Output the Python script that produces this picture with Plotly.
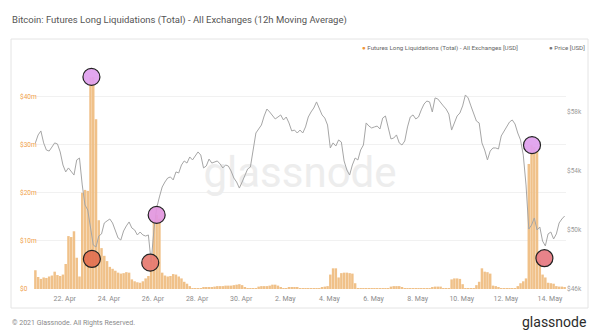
import pandas as pd
import plotly.graph_objects as go

# 3-hourly samples, 20 Apr 16:00 -> 14 May 16:00 (2021)
times = pd.date_range("2021-04-20 16:00", periods=193, freq="3h")

# Futures long liquidations, all exchanges, 12h moving average (USD millions)
liquidations_musd = [
    3.9, 2.5, 2.1, 2.4, 2.3, 2.6, 2.8, 3.6, 2.9, 2.7, 3.0, 5.2, 11.0, 10.8, 12.0, 6.5,
    2.6, 20.0, 20.6, 20.4, 44.0, 44.1, 35.3, 14.3, 8.5, 6.9, 5.8, 4.6, 4.2, 3.8, 3.4, 3.2,
    3.3, 3.5, 3.4, 2.0, 1.6, 1.4, 1.3, 1.6, 2.2, 2.7, 6.0, 14.2, 15.4, 14.6, 3.4, 2.8,
    2.6, 2.7, 3.1, 3.0, 2.6, 2.2, 1.5, 1.1, 0.6, 0.2, 0.1, 0.1, 0.1, 0.3, 0.4, 0.4,
    0.4, 0.5, 0.6, 0.6, 0.6, 0.7, 0.7, 0.7, 0.8, 0.9, 1.0, 0.8, 0.3, 0.2, 0.2, 0.2,
    0.2, 0.5, 0.6, 0.6, 0.6, 0.7, 0.9, 0.9, 0.7, 0.3, 0.2, 0.2, 0.3, 0.3, 0.3, 0.3,
    0.2, 0.1, 0.1, 0.1, 0.1, 0.1, 0.1, 0.1, 0.4, 0.5, 0.6, 3.0, 4.3, 4.3, 2.4, 3.3,
    3.4, 3.4, 3.3, 3.2, 1.2, 0.2, 0.1, 0.1, 0.1, 0.1, 0.1, 0.1, 0.1, 0.1, 0.1, 0.1,
    0.2, 0.5, 0.6, 0.6, 0.6, 0.3, 0.15, 0.15, 0.15, 0.15, 0.15, 0.15, 0.15, 0.15, 0.15, 0.15,
    0.4, 0.5, 0.5, 0.5, 0.2, 0.1, 0.1, 2.0, 2.2, 2.2, 2.1, 1.0, 0.1, 0.1, 0.1, 0.1,
    0.8, 1.5, 4.3, 3.6, 3.5, 3.2, 0.7, 0.6, 0.3, 0.2, 0.2, 0.2, 0.2, 0.2, 0.2, 0.6,
    1.2, 1.6, 2.2, 26.0, 29.9, 29.5, 28.5, 6.0, 3.0, 2.4, 1.3, 1.2, 1.1, 0.6, 0.5, 0.5,
    0.4,
]

# BTC price (USD)
price_usd = [
    55870, 56410, 56680, 55870, 55390, 55320, 55590, 55870, 55800, 55260, 54380, 53910,
    54180, 53910, 53700, 54720, 54850, 53030, 51680, 51340, 50120, 48970, 48840, 49580,
    49720, 50460, 50600, 50730, 50460, 49990, 49450, 49310, 49920, 50260, 50530, 50120,
    49990, 49650, 49850, 49650, 49580, 49650, 47820, 49990, 51470, 52220, 52890, 53230,
    53500, 53570, 53370, 53910, 53840, 54380, 54650, 54510, 54920, 54720, 54990, 55260,
    55050, 54180, 54310, 54780, 54510, 54580, 54650, 54450, 54180, 54380, 54310, 53970,
    53500, 53230, 52820, 53230, 53700, 54110, 54240, 55390, 56540, 56810, 57080, 57690,
    58160, 57960, 57690, 57490, 57620, 57760, 57420, 57620, 57220, 56680, 56740, 56540,
    56740, 56540, 56950, 57620, 57960, 58230, 58640, 58230, 57760, 57550, 57080, 55530,
    55870, 55660, 56070, 55930, 54650, 54040, 53700, 54380, 54850, 54720, 55390, 55730,
    57220, 57010, 56880, 56950, 57010, 56810, 57550, 57690, 56810, 56140, 56200, 56410,
    55870, 55730, 56000, 56950, 57620, 57760, 57490, 57620, 58100, 58500, 58700, 58640,
    57960, 58910, 58840, 58570, 58370, 58160, 57820, 56740, 57280, 57690, 57890, 58370,
    59110, 58910, 58370, 57820, 57350, 57220, 55870, 55390, 54720, 55320, 55530, 55530,
    55460, 56340, 56680, 56950, 57280, 57420, 57150, 56540, 56070, 55050, 53030, 50050,
    50320, 50800, 49990, 50190, 49240, 48910, 49720, 49850, 49380, 49720, 50460, 50730,
    50930,
]

# Highlighted liquidation spikes and the price lows next to them
spike_times = ["2021-04-23 05:00", "2021-04-26 04:00", "2021-05-13 04:30"]
spike_values_musd = [44.1, 15.4, 29.9]
spike_colors = ["rgba(224,160,238,0.92)", "rgba(226,150,222,0.92)", "rgba(224,160,238,0.92)"]

low_times = ["2021-04-23 05:30", "2021-04-25 21:00", "2021-05-13 18:00"]
low_prices = [48030, 47780, 48080]
low_colors = ["rgba(226,112,80,0.92)", "rgba(230,122,112,0.92)", "rgba(230,120,128,0.92)"]

# Axis ticks
x_tick_dates = ["2021-04-22", "2021-04-24", "2021-04-26", "2021-04-28", "2021-04-30",
                "2021-05-02", "2021-05-04", "2021-05-06", "2021-05-08", "2021-05-10",
                "2021-05-12", "2021-05-14"]
x_tick_labels = ["22. Apr", "24. Apr", "26. Apr", "28. Apr", "30. Apr", "2. May",
                 "4. May", "6. May", "8. May", "10. May", "12. May", "14. May"]
liq_ticks = [0, 10, 20, 30, 40]
liq_tick_labels = ["$0", "$10m", "$20m", "$30m", "$40m"]
price_ticks = [46000, 50000, 54000, 58000]
price_tick_labels = ["$46k", "$50k", "$54k", "$58k"]

FONT = "Roboto, 'Open Sans', sans-serif"
BAR = "rgb(240,193,137)"
ORANGE = "rgb(240,160,75)"

fig = go.Figure()

# faint brand mark behind the data
fig.add_trace(go.Scatter(
    x=["2021-05-02 16:00"], y=[23.3], mode="text", text=["glassnode"],
    textfont=dict(family=FONT, size=42, color="#ededed"),
    hoverinfo="skip", showlegend=False, xaxis="x", yaxis="y",
))

fig.add_trace(go.Bar(
    x=times, y=liquidations_musd, marker=dict(color=BAR, line=dict(width=0)),
    name="Futures Long Liquidations (Total) - All Exchanges [USD]",
    showlegend=False, xaxis="x", yaxis="y",
))

fig.add_trace(go.Scatter(
    x=times, y=price_usd, mode="lines", line=dict(color="#a6a6a6", width=1),
    name="Price [USD]", showlegend=False, xaxis="x", yaxis="y2",
))

fig.add_trace(go.Scatter(
    x=low_times, y=low_prices, mode="markers",
    marker=dict(size=17, color=low_colors, line=dict(color="#222", width=1.2)),
    hoverinfo="skip", showlegend=False, xaxis="x", yaxis="y2",
))

fig.add_trace(go.Scatter(
    x=spike_times, y=spike_values_musd, mode="markers",
    marker=dict(size=17, color=spike_colors, line=dict(color="#222", width=1.2)),
    hoverinfo="skip", showlegend=False, xaxis="x", yaxis="y3",
))

L, R, T, B = 34, 34, 62, 47
PW, PH = 600 - L - R, 336 - T - B


def px(x):
    return (x - L) / PW


def py(y):
    return (336 - B - y) / PH


liq_range = [0, PH / 4.81]
price_range = [46000, 46000 + PH * 1000 / 14.8]

fig.update_layout(
    width=600, height=336, autosize=False,
    margin=dict(l=L, r=R, t=T, b=B, pad=0),
    paper_bgcolor="white", plot_bgcolor="rgba(0,0,0,0)",
    font=dict(family=FONT),
    bargap=0.1, showlegend=False,
    xaxis=dict(
        type="date", range=["2021-04-20 14:30", "2021-05-14 17:30"],
        tickmode="array", tickvals=x_tick_dates, ticktext=x_tick_labels,
        tickfont=dict(size=7, color="#8c8c8c"), ticks="", showgrid=False,
        zeroline=False, showline=False, ticklabelstandoff=4,
    ),
    yaxis=dict(
        range=liq_range, tickmode="array", tickvals=liq_ticks[1:],
        showticklabels=False, gridcolor="#f1f1f1", gridwidth=1,
        zeroline=False, showline=False, ticks="",
    ),
    yaxis2=dict(
        overlaying="y", side="right", range=price_range,
        tickmode="array", tickvals=price_ticks, ticktext=price_tick_labels,
        tickfont=dict(size=6.5, color="#9a9a9a"), showgrid=False,
        zeroline=False, showline=False, ticks="",
    ),
    yaxis3=dict(overlaying="y", range=liq_range, visible=False),
)

# chart panel
fig.add_shape(type="rect", xref="paper", yref="paper",
              x0=px(11), x1=px(588), y0=py(308), y1=py(39),
              line=dict(color="#e4e4e4", width=1), fillcolor="white", layer="below")

# left axis labels, left aligned
for v, lab in zip(liq_ticks, liq_tick_labels):
    fig.add_annotation(x=px(18), xref="paper", y=v, yref="y", text=lab,
                       showarrow=False, xanchor="left", yanchor="middle",
                       font=dict(size=6.5, color=ORANGE, family=FONT))

fig.add_annotation(
    x=px(10), y=py(20), xref="paper", yref="paper", xanchor="left", yanchor="middle",
    text="Bitcoin: Futures Long Liquidations (Total) - All Exchanges (12h Moving Average)",
    showarrow=False, font=dict(size=9.5, color="#555555", family=FONT))

fig.add_annotation(
    x=px(360), y=py(48), xref="paper", yref="paper", xanchor="left", yanchor="middle",
    text='<span style="color:#f0953a">●</span> Futures Long Liquidations (Total) - All Exchanges [USD]',
    showarrow=False, font=dict(size=6.2, color="#666666", family=FONT))

fig.add_annotation(
    x=px(547), y=py(48), xref="paper", yref="paper", xanchor="left", yanchor="middle",
    text='<span style="color:#777777">●</span> Price [USD]',
    showarrow=False, font=dict(size=6.2, color="#666666", family=FONT))

fig.add_annotation(
    x=px(10), y=py(323), xref="paper", yref="paper", xanchor="left", yanchor="middle",
    text="© 2021 Glassnode. All Rights Reserved.",
    showarrow=False, font=dict(size=7, color="#8a8a8a", family=FONT))

fig.add_annotation(
    x=px(588), y=py(322), xref="paper", yref="paper", xanchor="right", yanchor="middle",
    text="glassnode", showarrow=False,
    font=dict(size=14, color="#2b2b2b", family=FONT))

fig.write_html("out.html")
